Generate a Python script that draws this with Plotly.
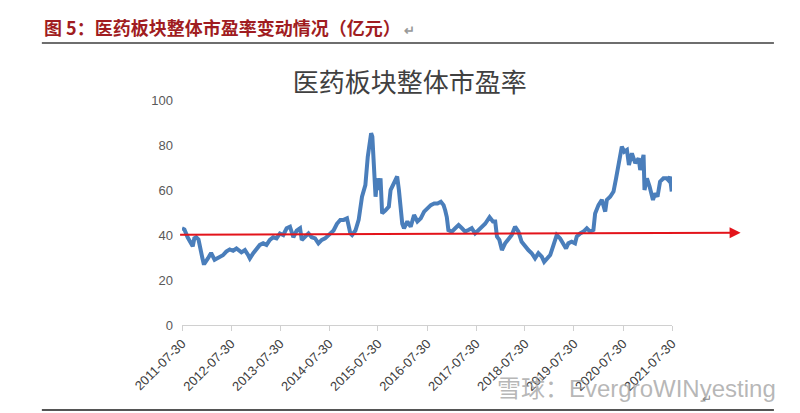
import plotly.graph_objects as go

# 医药板块整体市盈率
dates = [
    "2011-07-30", "2011-08-17", "2011-09-10", "2011-10-05", "2011-10-18", "2011-10-30",
    "2011-11-13", "2011-11-30", "2011-12-13", "2011-12-28", "2012-01-07", "2012-01-15",
    "2012-02-08", "2012-03-03", "2012-03-29", "2012-04-23", "2012-05-30", "2012-06-24",
    "2012-07-20", "2012-08-14", "2012-09-08", "2012-10-15", "2012-11-10", "2012-12-05",
    "2012-12-17", "2013-01-11", "2013-02-05", "2013-03-01", "2013-03-26", "2013-04-20",
    "2013-05-15", "2013-06-09", "2013-07-04", "2013-07-29", "2013-08-23", "2013-09-17",
    "2013-10-12", "2013-11-06", "2013-12-01", "2013-12-26", "2014-01-08", "2014-02-02",
    "2014-02-27", "2014-03-23", "2014-04-17", "2014-05-12", "2014-06-06", "2014-07-01",
    "2014-07-30", "2014-09-02", "2014-09-27", "2014-10-22", "2014-11-16", "2014-12-11",
    "2015-01-05", "2015-01-18", "2015-02-12", "2015-03-08", "2015-04-02", "2015-04-27",
    "2015-05-15", "2015-05-30", "2015-06-09", "2015-06-18", "2015-06-29", "2015-07-12",
    "2015-07-24", "2015-08-05", "2015-08-18", "2015-08-30", "2015-09-24", "2015-10-19",
    "2015-11-01", "2015-11-26", "2015-12-20", "2016-01-02", "2016-01-27", "2016-02-09",
    "2016-03-05", "2016-03-30", "2016-04-24", "2016-05-19", "2016-06-13", "2016-07-08",
    "2016-08-02", "2016-08-27", "2016-09-21", "2016-10-16", "2016-11-10", "2016-11-30",
    "2016-12-12", "2016-12-24", "2017-01-05", "2017-01-31", "2017-02-25", "2017-03-22",
    "2017-04-16", "2017-05-10", "2017-06-03", "2017-06-28", "2017-07-23", "2017-08-17",
    "2017-09-11", "2017-10-06", "2017-11-08", "2017-12-03", "2017-12-20", "2018-01-02",
    "2018-01-20", "2018-02-08", "2018-03-04", "2018-03-28", "2018-04-22", "2018-05-17",
    "2018-06-11", "2018-07-05", "2018-07-30", "2018-08-24", "2018-09-18", "2018-10-13",
    "2018-11-07", "2018-12-02", "2018-12-20", "2019-01-09", "2019-02-03", "2019-02-28",
    "2019-03-24", "2019-04-18", "2019-05-13", "2019-06-01", "2019-06-18", "2019-07-13",
    "2019-08-07", "2019-08-20", "2019-09-14", "2019-10-09", "2019-11-03", "2019-11-28",
    "2019-12-22", "2020-01-04", "2020-01-29", "2020-02-23", "2020-03-19", "2020-03-31",
    "2020-04-25", "2020-05-20", "2020-06-08", "2020-06-26", "2020-07-09", "2020-07-21",
    "2020-08-08", "2020-08-28", "2020-09-12", "2020-10-04", "2020-10-29", "2020-11-23",
    "2020-12-05", "2020-12-30", "2021-01-06", "2021-01-24", "2021-02-13", "2021-03-10",
    "2021-03-27", "2021-04-13", "2021-05-02", "2021-05-27", "2021-06-21", "2021-07-03",
    "2021-07-15", "2021-07-28",
]
pe = [
    43.0, 42.5, 39.0, 36.0, 35.0, 38.5,
    39.0, 38.0, 35.0, 30.0, 27.4, 27.4,
    29.6, 32.0, 29.0, 30.0, 31.0, 32.6,
    33.6, 33.0, 34.0, 32.3, 33.3, 31.0,
    29.6, 31.9, 34.0, 35.6, 36.3, 35.6,
    37.8, 39.0, 38.5, 40.7, 40.0, 43.0,
    43.7, 39.0, 42.0, 43.0, 37.8, 39.0,
    40.7, 39.0, 38.5, 36.3, 37.8, 38.5,
    40.0, 42.0, 45.0, 46.7, 46.7, 47.4,
    40.7, 40.0, 42.0, 46.7, 57.0, 62.2,
    74.8, 82.0, 85.2, 83.7, 67.4, 57.0,
    65.2, 60.0, 65.2, 49.6, 51.0, 52.6,
    60.0, 63.0, 66.0, 60.0, 45.0, 43.0,
    46.0, 43.7, 48.9, 46.0, 47.4, 50.4,
    51.9, 53.3, 54.0, 54.0, 54.8, 53.3,
    51.0, 48.0, 42.2, 41.5, 43.0, 44.4,
    43.0, 41.5, 42.2, 43.0, 40.7, 42.2,
    43.7, 45.0, 47.9, 46.0, 46.0, 39.3,
    37.8, 33.3, 36.3, 37.8, 40.0, 43.7,
    41.5, 37.0, 34.8, 33.3, 31.9, 29.6,
    31.9, 30.4, 28.1, 29.6, 31.1, 35.6,
    40.0, 38.5, 36.3, 34.0, 36.3, 37.0,
    36.3, 39.3, 40.7, 41.5, 43.0, 41.5,
    42.2, 49.6, 53.3, 55.6, 50.4, 55.6,
    57.0, 59.3, 65.2, 70.4, 74.1, 79.3,
    77.0, 77.8, 71.1, 76.3, 71.9, 74.1,
    68.9, 75.6, 60.0, 65.2, 61.5, 55.6,
    58.5, 57.0, 63.7, 65.2, 65.2, 64.4,
    65.9, 59.3,
]
tick_dates = [
    "2011-07-30", "2012-07-30", "2013-07-30", "2014-07-30", "2015-07-30", "2016-07-30",
    "2017-07-30", "2018-07-30", "2019-07-30", "2020-07-30", "2021-07-30",
]
ref_level = 41

LINE = "#4a7ebb"
RED = "#e3141b"
TEXT = "#404040"
CJK = "Noto Sans CJK SC"

fig = go.Figure(go.Scatter(
    x=dates, y=pe, mode="lines",
    line=dict(color=LINE, width=4),
    hovertemplate="%{x}<br>%{y}<extra></extra>",
))

# red reference arrow (extends past the plot area)
fig.add_annotation(
    xref="paper", yref="y", x=1.14, y=ref_level,
    ax=-562, ay=2, axref="pixel", ayref="pixel",
    text="", showarrow=True,
    arrowhead=2, arrowsize=1.1, arrowwidth=2, arrowcolor=RED,
)

# page header and rules
fig.add_annotation(
    xref="paper", yref="paper", x=-0.286, y=1.324, xanchor="left", yanchor="middle",
    text="图 5：医药板块整体市盈率变动情况（亿元）<span style='color:#999999;font-size:13px'> ↵</span>",
    showarrow=False, font=dict(family=CJK, size=18, color="#a01c21", weight="bold"),
)
fig.add_shape(type="line", xref="paper", yref="paper",
              x0=-0.286, x1=1.208, y0=1.253, y1=1.253,
              line=dict(color="#6e6e6e", width=2))
fig.add_shape(type="line", xref="paper", yref="paper",
              x0=-0.286, x1=1.208, y0=-0.378, y1=-0.378,
              line=dict(color="#555555", width=2))

# watermark
fig.add_annotation(
    xref="paper", yref="paper", x=1.216, y=-0.28, xanchor="right", yanchor="middle",
    text="雪球：EvergroWINyesting", showarrow=False,
    font=dict(family="Liberation Sans, " + CJK, size=24, color="rgba(160,160,160,0.75)"),
)
fig.add_annotation(
    xref="paper", yref="paper", x=1.072, y=-0.33, xanchor="center", yanchor="middle",
    text="↵", showarrow=False, font=dict(size=12, color="#888888"),
)

fig.update_layout(
    title=dict(text="医药板块整体市盈率", x=0.465, xref="paper", xanchor="center",
               y=0.8, yanchor="middle",
               font=dict(family=CJK, size=26, color=TEXT)),
    paper_bgcolor="white", plot_bgcolor="white",
    width=800, height=413,
    margin=dict(l=182, r=128, t=100, b=88),
    showlegend=False,
    font=dict(family="Liberation Sans, Arial", color=TEXT),
    xaxis=dict(
        type="date", range=["2011-07-30", "2021-07-30"],
        tickvals=tick_dates, tickformat="%Y-%m-%d", tickangle=-45,
        tickfont=dict(size=13, color=TEXT),
        showline=True, linecolor="#d0d0d0", linewidth=1,
        ticks="outside", ticklen=5, tickcolor="#d0d0d0",
        showgrid=False, zeroline=False,
    ),
    yaxis=dict(
        range=[0, 100], dtick=20,
        tickfont=dict(size=13, color="#595959"),
        showgrid=False, zeroline=False, showline=False,
        ticks="", ticklabelstandoff=8,
    ),
)

fig.write_html("out.html", config={"displayModeBar": False},
               post_script="document.body.style.margin='0';")
